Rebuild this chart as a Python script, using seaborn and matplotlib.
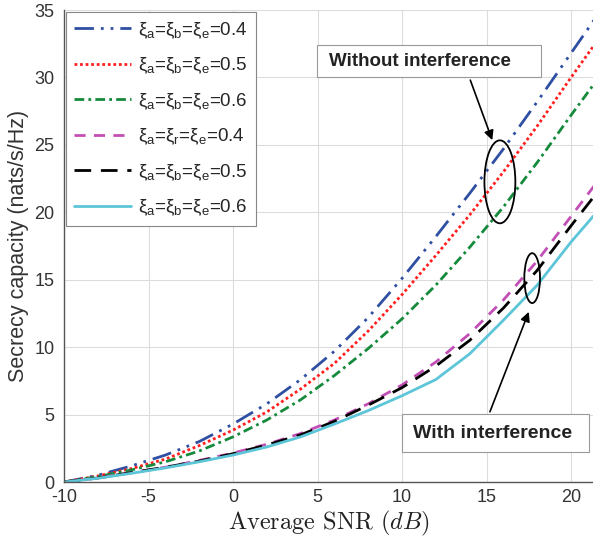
import numpy as np
import pandas as pd
import matplotlib
matplotlib.use("Agg")
import matplotlib.pyplot as plt
import seaborn as sns
from matplotlib.patches import Ellipse, Rectangle

# Data (SNR grid in dB)
snr = [-10, -8, -6, -4, -2, 0, 2, 4, 6, 8, 10, 12, 14, 16, 18, 20, 22]

# without interference
wo_04 = [0, 0.5, 1.2, 2.0, 3.0, 4.3, 5.8, 7.6, 9.7, 12.2, 15.1, 18.2, 21.4, 24.7, 28.2, 31.8, 35.4]
wo_05 = [0, 0.45, 1.0, 1.7, 2.7, 3.85, 5.2, 6.9, 8.8, 11.2, 13.9, 16.8, 19.8, 23.0, 26.4, 30.0, 33.5]
wo_06 = [0, 0.4, 0.9, 1.5, 2.3, 3.35, 4.6, 6.1, 7.9, 9.9, 12.1, 14.6, 17.4, 20.4, 23.7, 27.2, 30.6]
# with interference
wi_04 = [0, 0.3, 0.7, 1.1, 1.6, 2.15, 2.8, 3.6, 4.6, 5.8, 7.2, 8.9, 11.0, 13.5, 16.4, 19.7, 23.0]
wi_05 = [0, 0.3, 0.7, 1.1, 1.55, 2.1, 2.75, 3.5, 4.5, 5.7, 7.0, 8.6, 10.5, 12.9, 15.7, 19.0, 22.2]
wi_06 = [0, 0.28, 0.65, 1.05, 1.5, 2.0, 2.6, 3.35, 4.3, 5.3, 6.4, 7.6, 9.5, 12.0, 14.6, 17.8, 20.7]

labels = [r"$\xi_a$=$\xi_b$=$\xi_e$=0.4",
          r"$\xi_a$=$\xi_b$=$\xi_e$=0.5",
          r"$\xi_a$=$\xi_b$=$\xi_e$=0.6",
          r"$\xi_a$=$\xi_r$=$\xi_e$=0.4",
          r"$\xi_a$=$\xi_b$=$\xi_e$=0.5",
          r"$\xi_a$=$\xi_b$=$\xi_e$=0.6"]

series = [wo_04, wo_05, wo_06, wi_04, wi_05, wi_06]
colors = ["#2f4fa2", "#ff1f1f", "#158a3c", "#c24fb5", "#000000", "#5cc6d8"]
styles = [(0, (7, 2.5, 1, 2.5, 1, 2.5)), (0, (1, 1)), (0, (3.5, 1.5, 1, 1.5)),
          (0, (4, 3)), (0, (6, 3.5)), "-"]

sns.set_theme(style="whitegrid")
plt.rcParams["font.family"] = ["Liberation Sans", "DejaVu Sans"]
plt.rcParams["mathtext.fontset"] = "custom"
plt.rcParams["mathtext.rm"] = "Liberation Sans"
plt.rcParams["mathtext.it"] = "Liberation Sans"
plt.rcParams["mathtext.default"] = "regular"
plt.rcParams["axes.unicode_minus"] = False

fig = plt.figure(figsize=(5.93, 5.41), dpi=100)
ax = fig.add_axes([0.108, 0.109, 0.892, 0.8725])

for vals, c, ls, lab in zip(series, colors, styles, labels):
    df = pd.DataFrame({"snr": snr, "cap": vals})
    sns.lineplot(data=df, x="snr", y="cap", ax=ax, color=c, linestyle=ls,
                 linewidth=2, label=lab)

ax.set_xlim(-10, 21.3)
ax.set_ylim(0, 35)
ax.set_xticks([-10, -5, 0, 5, 10, 15, 20])
ax.set_yticks([0, 5, 10, 15, 20, 25, 30, 35])
ax.grid(True, color="#dcdcdc", linewidth=0.8)
ax.set_facecolor("white")
for s in ["top", "right"]:
    ax.spines[s].set_visible(False)
for s in ["left", "bottom"]:
    ax.spines[s].set_color("#555555")
    ax.spines[s].set_linewidth(1.0)
ax.tick_params(axis="both", labelsize=13, colors="#333333", length=0)
ax.tick_params(axis="x", pad=5)
ax.tick_params(axis="y", pad=7)

ax.set_xlabel(r"Average SNR ($\mathit{dB}$)", fontfamily="cmr10", math_fontfamily="cm",
              fontsize=17.5, color="#222222", labelpad=2)
ax.set_ylabel("Secrecy capacity (nats/s/Hz)", fontsize=15.5, color="#333333", labelpad=4)

leg = ax.legend(loc="upper left", fontsize=13.5, handlelength=3.0, labelspacing=0.8,
                borderaxespad=0.1, frameon=True, fancybox=False, borderpad=0.45,
                handletextpad=0.4)
leg.get_frame().set_edgecolor("#888888")
leg.get_frame().set_linewidth(0.8)
leg.get_frame().set_facecolor("white")
leg.get_frame().set_alpha(1)

# annotation boxes
ax.add_patch(Rectangle((4.97, 30.02), 13.26, 2.37, facecolor="white",
                       edgecolor="#999999", linewidth=0.8, zorder=5))
ax.text(5.7, 31.2, "Without interference", fontsize=13.5, fontweight="bold",
        color="#222222", va="center", ha="left", zorder=6)
ax.add_patch(Rectangle((9.98, 2.22), 11.08, 2.82, facecolor="white",
                       edgecolor="#999999", linewidth=0.8, zorder=5))
ax.text(10.62, 3.63, "With interference", fontsize=14, fontweight="bold",
        color="#222222", va="center", ha="left", zorder=6)

ax.add_patch(Ellipse((15.79, 22.26), 1.83, 6.15, facecolor="none",
                     edgecolor="black", linewidth=1.3, zorder=6))
ax.add_patch(Ellipse((17.70, 15.12), 0.93, 3.7, facecolor="none",
                     edgecolor="black", linewidth=1.3, zorder=6))

ax.annotate("", xy=(15.34, 25.35), xytext=(14.04, 29.8),
            arrowprops=dict(arrowstyle="-|>", color="black", lw=1.2,
                            mutation_scale=14, shrinkA=0, shrinkB=0), zorder=7)
ax.annotate("", xy=(17.5, 12.62), xytext=(15.2, 5.21),
            arrowprops=dict(arrowstyle="-|>", color="black", lw=1.2,
                            mutation_scale=14, shrinkA=0, shrinkB=0), zorder=7)

fig.savefig("out.png", dpi=100)
